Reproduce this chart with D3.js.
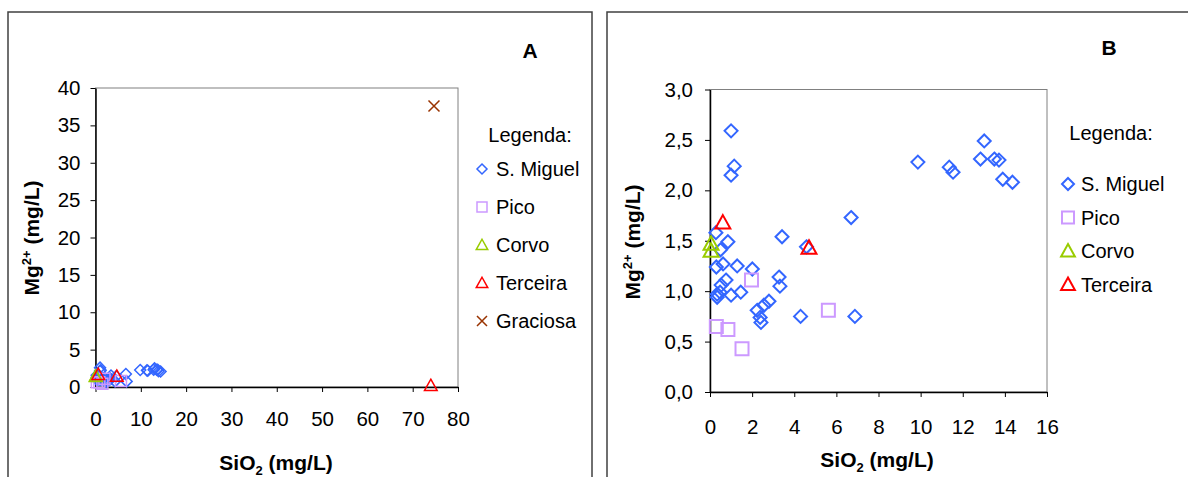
<!DOCTYPE html>
<html>
<head>
<meta charset="utf-8">
<script src="https://cdnjs.cloudflare.com/ajax/libs/d3/7.8.5/d3.min.js"></script>
<style>
  body { margin: 0; background: #fff; }
  svg { display: block; font-family: "Liberation Sans", Arial, sans-serif; }
  .tick text { font-size: 20.5px; fill: #000; }
  .domain { stroke: #000; stroke-width: 1.5; }
  .tick line { stroke: #000; stroke-width: 1; }
  .title { font-weight: bold; font-size: 21px; }
  .legend text { font-size: 20px; }
</style>
</head>
<body>
<svg width="1188" height="477"></svg>
<script>
// SiO2 (mg/L), Mg2+ (mg/L) pairs
const sMiguel = [
  [1.0, 2.59], [1.15, 2.24], [1.0, 2.15], [9.87, 2.28], [11.36, 2.23],
  [11.54, 2.18], [13.02, 2.49], [12.84, 2.31], [13.5, 2.31], [13.72, 2.3],
  [13.9, 2.11], [14.36, 2.08], [6.7, 1.73], [3.42, 1.54], [4.58, 1.44],
  [0.28, 1.58], [0.85, 1.49], [0.5, 1.41], [0.3, 1.24], [0.62, 1.27],
  [1.29, 1.25], [2.01, 1.22], [0.76, 1.11], [0.53, 1.06], [3.28, 1.14],
  [3.32, 1.05], [0.34, 0.97], [0.34, 0.94], [0.48, 0.99], [1.0, 0.96],
  [1.46, 0.99], [2.8, 0.9], [2.56, 0.86], [2.24, 0.81], [2.38, 0.74],
  [2.42, 0.69], [4.3, 0.75], [6.88, 0.75]
];
const pico = [[0.3, 0.65], [0.85, 0.62], [1.52, 0.43], [1.97, 1.11], [5.62, 0.81]];
const corvo = [[0.05, 1.47], [0.05, 1.4]];
const terceira = [[0.61, 1.68], [4.7, 1.43], [74, 0.2]];
const graciosa = [[74.7, 37.6]];

const seriesNames = ["S. Miguel", "Pico", "Corvo", "Terceira", "Graciosa"];
const seriesData = [sMiguel, pico, corvo, terceira, graciosa];
const seriesColors = ["#3366ff", "#cc99ff", "#99cc00", "#ff0000", "#993300"];
const seriesShapes = ["diamond", "square", "triangle", "triangle", "cross"];

const ticksA = { x: d3.range(0, 81, 10), y: d3.range(0, 41, 5) };
const ticksB = { x: d3.range(0, 17, 2), y: d3.range(0, 3.01, 0.5) };

const svg = d3.select("svg");

// excel-like marker outlines, s = half size
const shapePath = (shape, s) => {
  if (shape === "diamond") return `M0,${-s}L${s},0L0,${s}L${-s},0Z`;
  if (shape === "square") return `M${-s},${-s}H${s}V${s}H${-s}Z`;
  if (shape === "triangle") {
    const t = s * 1.15;
    return `M0,${-t}L${t},${t * 0.8}L${-t},${t * 0.8}Z`;
  }
  return `M${-s},${-s}L${s},${s}M${s},${-s}L${-s},${s}`;
};

const drawPanel = cfg => {
  const g = svg.append("g");

  // outer chart border
  g.append("rect")
    .attr("x", cfg.box[0]).attr("y", cfg.box[1])
    .attr("width", cfg.box[2]).attr("height", cfg.box[3])
    .attr("fill", "none").attr("stroke", "#404040").attr("stroke-width", 1.5);

  const x = d3.scaleLinear().domain(cfg.xDomain).range([cfg.left, cfg.right]);
  const y = d3.scaleLinear().domain(cfg.yDomain).range([cfg.bottom, cfg.top]);

  // plot area frame
  g.append("rect")
    .attr("x", cfg.left).attr("y", cfg.top)
    .attr("width", cfg.right - cfg.left).attr("height", cfg.bottom - cfg.top)
    .attr("fill", "none").attr("stroke", "#808080").attr("stroke-width", 1);

  g.append("g")
    .attr("transform", `translate(0,${cfg.bottom})`)
    .call(d3.axisBottom(x).tickValues(cfg.ticks.x).tickSize(5).tickPadding(cfg.xPad).tickSizeOuter(0).tickFormat(cfg.xFmt));
  g.append("g")
    .attr("transform", `translate(${cfg.left},0)`)
    .call(d3.axisLeft(y).tickValues(cfg.ticks.y).tickSize(5).tickPadding(cfg.yPad).tickSizeOuter(0).tickFormat(cfg.yFmt));
  g.selectAll(".tick text").attr("font-family", null).attr("font-size", null);

  // points
  seriesData.forEach((data, i) => {
    if (!cfg.series.includes(i)) return;
    g.append("g")
      .selectAll("path")
      .data(data.filter(d => d[0] <= cfg.xDomain[1] && d[1] <= cfg.yDomain[1]))
      .enter()
      .append("path")
      .attr("transform", d => `translate(${x(d[0])},${y(d[1])})`)
      .attr("d", shapePath(seriesShapes[i], cfg.markerSize))
      .attr("fill", "none")
      .attr("stroke", seriesColors[i])
      .attr("stroke-width", cfg.markerStroke);
  });

  // axis titles
  const xt = g.append("text").attr("class", "title")
    .attr("x", cfg.xTitle[0]).attr("y", cfg.xTitle[1]).attr("text-anchor", "middle");
  xt.append("tspan").text("SiO");
  xt.append("tspan").text("2").attr("font-size", 13).attr("dy", 5);
  xt.append("tspan").text(" (mg/L)").attr("dy", -5);

  const yt = g.append("text").attr("class", "title")
    .attr("transform", `translate(${cfg.yTitle[0]},${cfg.yTitle[1]}) rotate(-90)`)
    .attr("text-anchor", "middle");
  yt.append("tspan").text("Mg");
  yt.append("tspan").text("2+").attr("font-size", 13).attr("dy", -8);
  yt.append("tspan").text(" (mg/L)").attr("dy", 8);

  g.append("text").attr("class", "title")
    .attr("x", cfg.label[0]).attr("y", cfg.label[1])
    .attr("text-anchor", "middle").style("font-size", "21px")
    .text(cfg.labelText);

  // legend
  const legend = g.append("g").attr("class", "legend");
  legend.append("text")
    .attr("x", cfg.legend.title[0]).attr("y", cfg.legend.title[1])
    .attr("text-anchor", "middle").text("Legenda:");
  cfg.series.forEach((s, k) => {
    const ly = cfg.legend.y0 + k * cfg.legend.step;
    legend.append("path")
      .attr("transform", `translate(${cfg.legend.mx},${ly})`)
      .attr("d", shapePath(seriesShapes[s], cfg.legend.ms))
      .attr("fill", "none")
      .attr("stroke", seriesColors[s])
      .attr("stroke-width", cfg.markerStroke);
    legend.append("text")
      .attr("x", cfg.legend.tx).attr("y", ly + 7)
      .text(seriesNames[s]);
  });
};

drawPanel({
  box: [8, 12, 584, 480],
  left: 95.5, right: 458, top: 88, bottom: 387,
  xDomain: [0, 80], yDomain: [0, 40], ticks: ticksA,
  xFmt: d3.format("d"), yFmt: d3.format("d"),
  xPad: 19, yPad: 10,
  series: [0, 1, 2, 3, 4],
  markerSize: 5.5, markerStroke: 1.5,
  xTitle: [276, 470], yTitle: [39, 238],
  label: [530, 58], labelText: "A",
  legend: { title: [530, 142], mx: 482, tx: 496, y0: 169, step: 38, ms: 5 }
});

drawPanel({
  box: [607, 12, 600, 480],
  left: 710, right: 1047, top: 89.5, bottom: 392,
  xDomain: [0, 16], yDomain: [0, 3], ticks: ticksB,
  xFmt: d3.format("d"), yFmt: d => d3.format(".1f")(d).replace(".", ","),
  xPad: 22, yPad: 12,
  series: [0, 1, 2, 3],
  markerSize: 6.5, markerStroke: 2,
  xTitle: [877, 467], yTitle: [640, 242],
  label: [1109, 55], labelText: "B",
  legend: { title: [1111, 140], mx: 1068, tx: 1081, y0: 184, step: 33.5, ms: 6 }
});
</script>
</body>
</html>
